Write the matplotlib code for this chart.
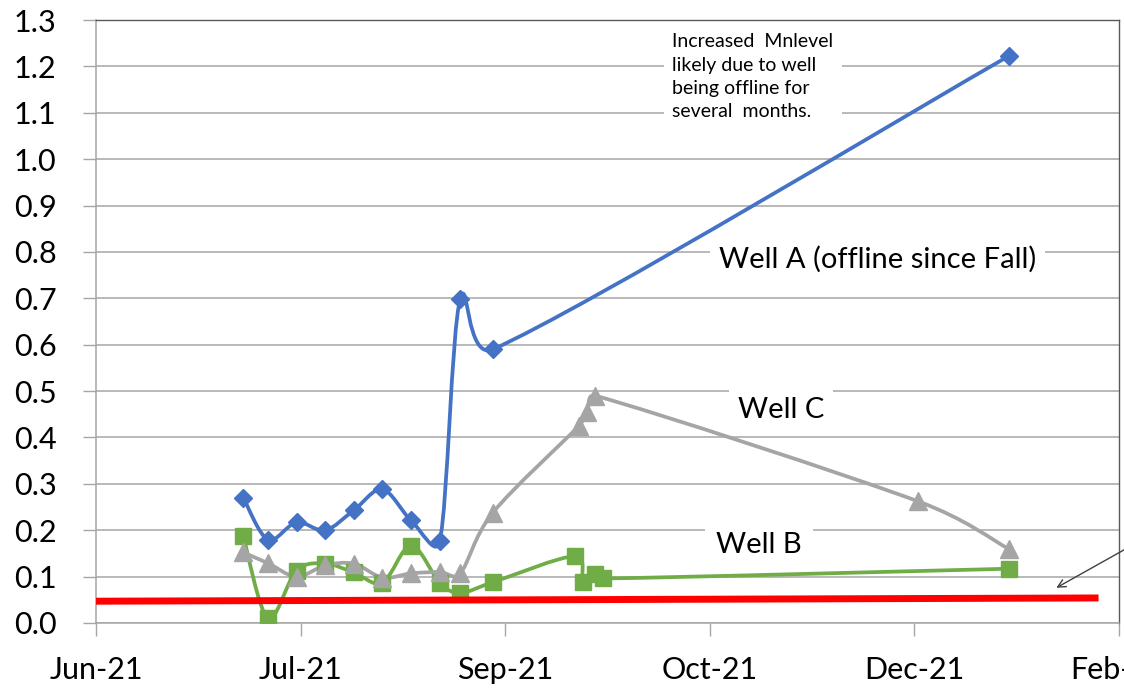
import datetime as dt
import numpy as np
import matplotlib
matplotlib.use('Agg')
import matplotlib.pyplot as plt
import matplotlib.dates as mdates
from matplotlib.path import Path
from matplotlib.patches import PathPatch

plt.rcParams['font.family'] = ['Lato', 'DejaVu Sans']

# DATA (Mn, mg/L)
well_a_dates = ['2021-07-07', '2021-07-13', '2021-07-20', '2021-07-27', '2021-08-03', '2021-08-10',
                '2021-08-17', '2021-08-24', '2021-08-29', '2021-09-06', '2022-01-10']
well_a_vals = [0.27, 0.18, 0.217, 0.2, 0.243, 0.288, 0.221, 0.176, 0.698, 0.59, 1.222]

well_b_dates = ['2021-07-07', '2021-07-13', '2021-07-20', '2021-07-27', '2021-08-03', '2021-08-10',
                '2021-08-17', '2021-08-24', '2021-08-29', '2021-09-06', '2021-09-26', '2021-09-28',
                '2021-10-01', '2021-10-03', '2022-01-10']
well_b_vals = [0.187, 0.011, 0.113, 0.128, 0.109, 0.087, 0.167, 0.087, 0.065, 0.088, 0.144, 0.088,
               0.106, 0.096, 0.117]

well_c_dates = ['2021-07-07', '2021-07-13', '2021-07-20', '2021-07-27', '2021-08-03', '2021-08-10',
                '2021-08-17', '2021-08-24', '2021-08-29', '2021-09-06', '2021-09-27', '2021-09-29',
                '2021-10-01', '2021-12-19', '2022-01-10']
well_c_vals = [0.152, 0.129, 0.1, 0.124, 0.128, 0.098, 0.107, 0.11, 0.107, 0.238, 0.425, 0.455,
               0.49, 0.262, 0.16]

limit_dates = ['2021-06-01', '2022-02-01']
limit_vals = [0.047, 0.054]

tick_dates = ['2021-06-01', '2021-07-21', '2021-09-09', '2021-10-29', '2021-12-18', '2022-02-06']
y_ticks = [i / 10 for i in range(14)]


def to_num(dates):
    return mdates.date2num([dt.datetime.strptime(d, '%Y-%m-%d') for d in dates])


def smooth_path(ax, x, y):
    # excel-like smoothed line, built in pixel space then mapped back to data
    pts = ax.transData.transform(np.column_stack([x, y]))
    n = len(pts)
    verts = [pts[0]]
    codes = [Path.MOVETO]
    for i in range(n - 1):
        p0 = pts[max(i - 1, 0)]
        p1 = pts[i]
        p2 = pts[i + 1]
        p3 = pts[min(i + 2, n - 1)]
        seg = np.hypot(*(p2 - p1))
        t1 = (p2 - p0) / 6
        t2 = (p3 - p1) / 6
        l1 = np.hypot(*t1)
        l2 = np.hypot(*t2)
        if l1 > seg / 2:
            t1 = t1 * (seg / 2) / l1
        if l2 > seg / 2:
            t2 = t2 * (seg / 2) / l2
        verts += [p1 + t1, p2 - t2, p2]
        codes += [Path.CURVE4] * 3
    verts = ax.transData.inverted().transform(np.array(verts))
    return Path(verts, codes)


fig = plt.figure(figsize=(11.24, 6.91), dpi=100)
ax = fig.add_axes([96 / 1124, 68 / 691, 1023 / 1124, 603 / 691])

ticks = to_num(tick_dates)
ax.set_xlim(ticks[0], ticks[-1])
ax.set_ylim(0, 1.3)

series = [
    (well_b_dates, well_b_vals, '#70AD47', 's', 11),
    (well_c_dates, well_c_vals, '#A5A5A5', '^', 12.5),
    (well_a_dates, well_a_vals, '#4472C4', 'D', 9.5),
]
for dates, vals, color, marker, ms in series:
    xs = to_num(dates)
    ax.add_patch(PathPatch(smooth_path(ax, xs, vals), facecolor='none', edgecolor=color,
                           lw=2.7, zorder=3, capstyle='round', joinstyle='round'))
    ax.plot(xs, vals, linestyle='none', marker=marker, color=color, markersize=ms, zorder=4)

ax.plot(to_num(limit_dates), limit_vals, color='#FF0000', lw=5, zorder=5, solid_capstyle='butt')

# axes styling
ax.set_xticks(ticks)
ax.set_xticklabels([dt.datetime.strptime(d, '%Y-%m-%d').strftime('%b-%y') for d in tick_dates])
ax.set_yticks(y_ticks)
ax.set_yticklabels(['%.1f' % v for v in y_ticks])
ax.grid(axis='y', color='#A6A6A6', lw=1.1)
ax.set_axisbelow(True)
ax.tick_params(axis='y', direction='out', length=9.5, width=1, color='#A6A6A6', pad=19,
               labelsize=22, labelcolor='#000000')
ax.tick_params(axis='x', direction='out', length=9, width=1, color='#A6A6A6', pad=15,
               labelsize=22, labelcolor='#000000')
for side in ['left', 'bottom']:
    ax.spines[side].set_color('#A6A6A6')
    ax.spines[side].set_linewidth(1.1)
for side in ['top', 'right']:
    ax.spines[side].set_color('#595959')
    ax.spines[side].set_linewidth(1)

# labels
box = dict(facecolor='white', edgecolor='none', pad=6)
d0 = ticks[0]
ax.text(d0 + 191, 0.785, 'Well A (offline since Fall)', fontsize=21, ha='center', va='center',
        bbox=box, zorder=6)
ax.text(d0 + 167.4, 0.459, 'Well C', fontsize=21, ha='center', va='center', bbox=box, zorder=6)
ax.text(d0 + 162, 0.169, 'Well B', fontsize=21, ha='center', va='center',
        bbox=dict(facecolor='white', edgecolor='none', pad=8), zorder=6)
ax.text(d0 + 140.8, 1.271, 'Increased  Mnlevel\nlikely due to well\nbeing offline for\nseveral  months.',
        fontsize=14, ha='left', va='top', linespacing=1.45,
        bbox=dict(facecolor='white', edgecolor='none', pad=6), zorder=6)

ax.annotate('', xy=(d0 + 234.1, 0.073), xytext=(d0 + 259.8, 0.2),
            arrowprops=dict(arrowstyle='->', color='#404040', lw=1, mutation_scale=14),
            annotation_clip=False, zorder=6)

plt.savefig('out.png', dpi=100)
